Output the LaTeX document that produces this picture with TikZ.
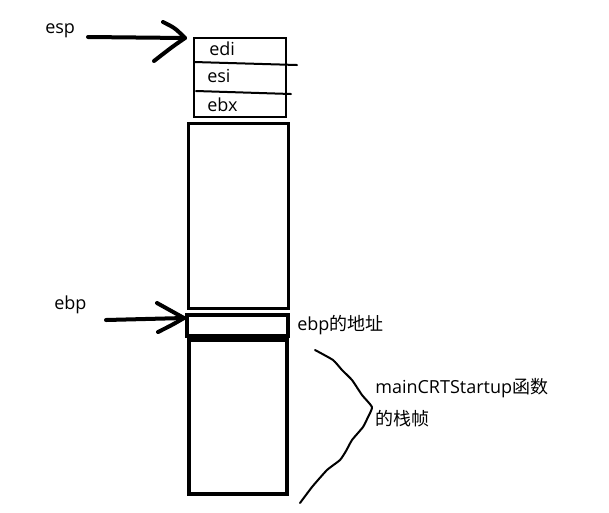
\documentclass[tikz,border=0pt]{standalone}
\usepackage{fontspec}
\setmainfont{Open Sans}
\newfontfamily\cjk{Noto Sans CJK SC}
\begin{document}
\begin{tikzpicture}[x=0.75pt,y=-0.75pt,
  lbl/.style={font=\fontsize{13.5}{16}\selectfont, inner sep=0pt, anchor=west},
  slot/.style={draw, inner sep=0pt},
  pen/.style={line width=3pt, line cap=round, line join=round},
  thin/.style={line width=1.5pt, line cap=round, line join=round}]
\useasboundingbox (0,0) rectangle (609,512);
% boxes
\node[slot, line width=1.9pt, minimum width=92*0.75pt, minimum height=79*0.75pt] (top) at (240,77.5) {};
\node[slot, line width=2.3pt, minimum width=100*0.75pt, minimum height=185*0.75pt] (mid) at (238.5,216) {};
\node[slot, line width=3pt, minimum width=101*0.75pt, minimum height=21*0.75pt] (ebpbox) at (237.5,325.5) {};
\node[slot, line width=3pt, minimum width=98*0.75pt, minimum height=154*0.75pt] (frame) at (238,417) {};
% separator lines in top box
\coordinate (s1a) at (194,62); \coordinate (s1b) at (297,65);
\coordinate (s2a) at (196,91); \coordinate (s2b) at (291,94);
\draw[thin] (s1a) -- (s1b);
\draw[thin] (s2a) -- (s2b);
% slot labels
\node[lbl] (edi) at (209,49) {edi};
\node[lbl] (esi) at (207,76) {esi};
\node[lbl] (ebx) at (207,105) {ebx};
% esp arrow
\node[lbl] (esp) at (45,31) {esp};
\coordinate (espT) at (88,37);
\coordinate (espH) at (185,38);
\draw[pen] (espT) -- (espH);
\draw[pen] (163,22) .. controls (175,28) .. (espH) .. controls (172,47) .. (154,61);
% ebp arrow
\node[lbl] (ebp) at (54,305) {ebp};
\coordinate (ebpT) at (106,320);
\coordinate (ebpH) at (184,318);
\draw[pen] (ebpT) -- (ebpH);
\draw[pen] (157,303) .. controls (170,310) .. (ebpH) .. controls (172,325) .. (158,332);
% ebp address label
\node[lbl] (addr) at (297,325) {ebp{\cjk 的地址}};
% brace
\draw[thin] plot[smooth, tension=0.3] coordinates {(315,350) (333,360) (342,370) (352,380) (362,395) (372,407) (368,417) (363,427) (352,440) (346,451) (340,460) (327,470) (312,487) (300,503)};
% frame label
\node[lbl] (f1) at (375,388) {mainCRTStartup{\cjk 函数}};
\node[lbl] (f2) at (375,419) {\cjk 的栈帧};
\end{tikzpicture}
\end{document}
